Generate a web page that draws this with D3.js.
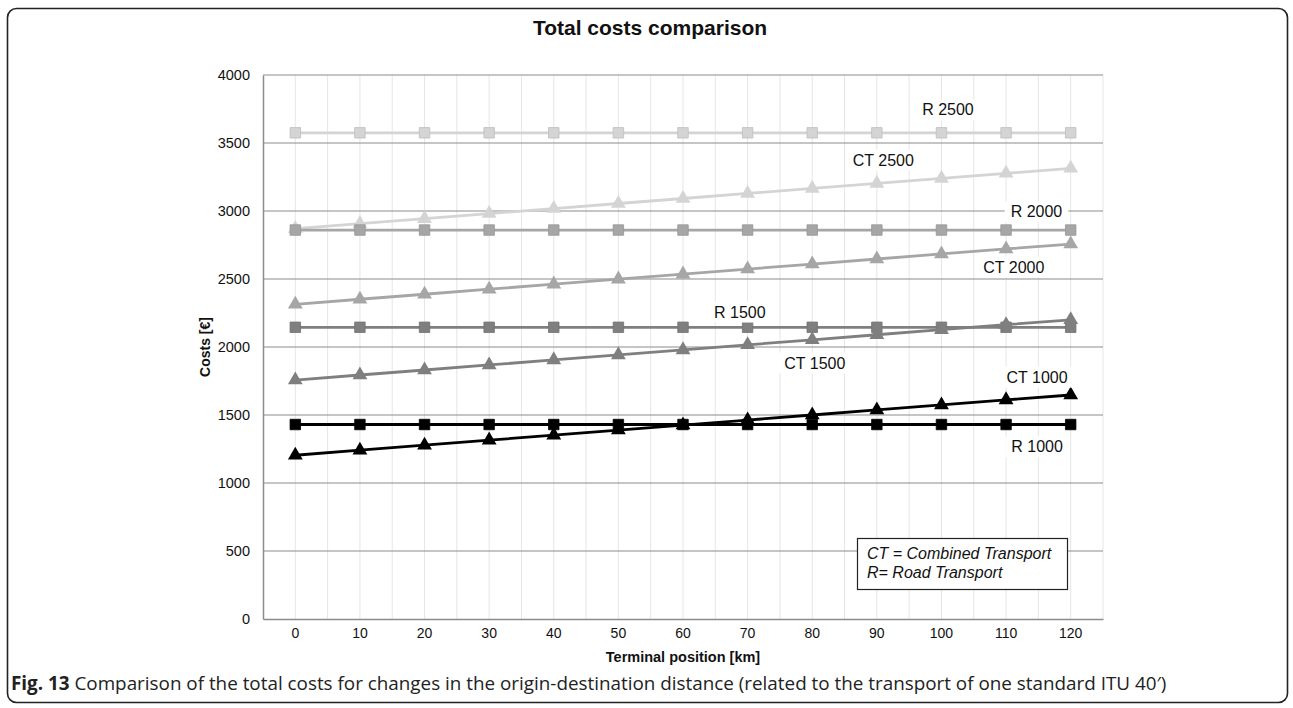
<!DOCTYPE html>
<html><head><meta charset="utf-8">
<script src="https://cdn.jsdelivr.net/npm/d3@7"></script>
<style>body{margin:0;background:#fff}svg{display:block}</style>
</head><body>
<svg id="c" width="1293" height="708"></svg>
<script>
const categories = [0,10,20,30,40,50,60,70,80,90,100,110,120];
const yTicks = [0,500,1000,1500,2000,2500,3000,3500,4000];
const seriesNames = ["R 2500","CT 2500","R 2000","CT 2000","R 1500","CT 1500","R 1000","CT 1000"];
const r2500 = [3575,3575,3575,3575,3575,3575,3575,3575,3575,3575,3575,3575,3575];
const ct2500 = [2870,2907,2944,2981,3018,3055,3092,3129,3166,3203,3240,3277,3314];
const r2000 = [2860,2860,2860,2860,2860,2860,2860,2860,2860,2860,2860,2860,2860];
const ct2000 = [2314,2351,2388,2425,2462,2499,2536,2573,2610,2647,2684,2721,2757];
const r1500 = [2145,2145,2145,2145,2145,2145,2145,2145,2145,2145,2145,2145,2145];
const ct1500 = [1757,1794,1831,1868,1905,1942,1979,2016,2053,2090,2127,2164,2200];
const r1000 = [1430,1430,1430,1430,1430,1430,1430,1430,1430,1430,1430,1430,1430];
const ct1000 = [1204,1241,1278,1315,1352,1389,1426,1463,1500,1537,1574,1611,1647];
const seriesValues = [r2500,ct2500,r2000,ct2000,r1500,ct1500,r1000,ct1000];
const seriesColors = ["#d4d4d4","#d4d4d4","#a6a6a6","#a6a6a6","#7f7f7f","#7f7f7f","#000000","#000000"];
const seriesMarker = ["square","triangle","square","triangle","square","triangle","square","triangle"];
// label anchor in data units: km position and cost value
const labelKm = [101,91,114.7,111.2,68.8,80.4,114.8,114.8];
const labelVal = [3743,3375,2993,2588,2257,1882,1265,1779];

const FONT = "Liberation Sans, Arial, sans-serif";
const svg = d3.select("#c");
svg.append("rect").attr("x",7.5).attr("y",8.5).attr("width",1280).attr("height",694)
  .attr("rx",9).attr("fill","none").attr("stroke","#222").attr("stroke-width",1.6);

const L=263, R=1103, T=75, B=619;
const x = d3.scaleBand().domain(categories).range([L,R]).paddingInner(0).paddingOuter(0);
const y = d3.scaleLinear().domain([0,4000]).range([B,T]);
const cx = d => x(d)+x.bandwidth()/2;
const xKm = d3.scaleLinear().domain([0,120]).range([cx(0),cx(120)]);

const g = svg.append("g");
const vlines = [];
categories.forEach(c=>{ vlines.push(x(c)); vlines.push(cx(c)); });
vlines.push(R);
g.selectAll("line.v").data(vlines.slice(1)).join("line")
  .attr("x1",d=>d).attr("x2",d=>d).attr("y1",T).attr("y2",B)
  .attr("stroke","#e6e6e6").attr("stroke-width",1);
g.selectAll("line.h").data(yTicks.filter(t=>t>0)).join("line")
  .attr("x1",L).attr("x2",R).attr("y1",d=>y(d)).attr("y2",d=>y(d))
  .attr("stroke","#8c8c8c").attr("stroke-width",1.2);

const yAxis = svg.append("g").attr("transform",`translate(${L},0)`)
  .call(d3.axisLeft(y).tickValues(yTicks).tickFormat(d3.format("d")).tickSize(0).tickPadding(13));
yAxis.select(".domain").attr("stroke","#8c8c8c").attr("stroke-width",1.5);
yAxis.selectAll("text").attr("font-family",FONT).attr("font-size",14.5).attr("fill","#111");
const xAxis = svg.append("g").attr("transform",`translate(0,${B})`)
  .call(d3.axisBottom(x).tickSize(0).tickPadding(9));
xAxis.select(".domain").attr("stroke","#8c8c8c").attr("stroke-width",1.5);
xAxis.selectAll("text").attr("font-family",FONT).attr("font-size",14).attr("fill","#111");

const line = d3.line().x((d,i)=>cx(categories[i])).y(d=>y(d));
const sq = d3.symbol().type(d3.symbolSquare).size(110);
const tri = d3.symbol().type(d3.symbolTriangle).size(95);
seriesValues.forEach((vals,si)=>{
  const gs = svg.append("g");
  gs.append("path").datum(vals).attr("d",line).attr("fill","none")
    .attr("stroke",seriesColors[si]).attr("stroke-width",2.8);
  gs.selectAll("path.m").data(vals).join("path")
    .attr("transform",(d,i)=>`translate(${cx(categories[i])},${y(d)})`)
    .attr("d", seriesMarker[si]==="square"? sq() : tri())
    .attr("fill",seriesColors[si])
    .attr("stroke", seriesMarker[si]==="square" ? d3.color(seriesColors[si]).darker(0.3) : "none")
    .attr("stroke-width",0.8);
});

seriesNames.forEach((name,si)=>{
  const lx = xKm(labelKm[si]);
  const ly = y(labelVal[si]);
  const gl = svg.append("g");
  const t = gl.append("text").attr("x",lx).attr("y",ly).attr("text-anchor","middle")
    .attr("dominant-baseline","central")
    .attr("font-family",FONT).attr("font-size",16).attr("fill","#111").text(name);
  const bb = t.node().getBBox();
  gl.insert("rect","text").attr("x",bb.x-6).attr("y",bb.y-2).attr("width",bb.width+12).attr("height",bb.height+4).attr("fill","#fff");
});

const lg = svg.append("g");
lg.append("rect").attr("x",857.5).attr("y",538.5).attr("width",210).attr("height",51)
  .attr("fill","#fff").attr("stroke","#222").attr("stroke-width",1.2);
lg.append("text").attr("x",867).attr("y",559).attr("font-family",FONT)
  .attr("font-style","italic").attr("font-size",16).attr("fill","#111").text("CT = Combined Transport");
lg.append("text").attr("x",867).attr("y",578).attr("font-family",FONT)
  .attr("font-style","italic").attr("font-size",16).attr("fill","#111").text("R= Road Transport");

svg.append("text").attr("x",650).attr("y",35).attr("text-anchor","middle")
  .attr("font-family",FONT).attr("font-weight","bold").attr("font-size",21)
  .attr("fill","#111").text("Total costs comparison");
svg.append("text").attr("transform","translate(210,347) rotate(-90)").attr("text-anchor","middle")
  .attr("font-family",FONT).attr("font-weight","bold").attr("font-size",14)
  .attr("fill","#111").text("Costs [€]");
svg.append("text").attr("x",683).attr("y",662).attr("text-anchor","middle")
  .attr("font-family",FONT).attr("font-weight","bold").attr("font-size",14.5)
  .attr("fill","#111").text("Terminal position [km]");

const capX0 = 11, capX1 = 1167;
let capSize = 14.5;
const cap = svg.append("text").attr("x",capX0).attr("y",690)
  .attr("font-family","Open Sans, Noto Sans, sans-serif").attr("font-size",capSize).attr("fill","#222");
cap.append("tspan").attr("font-weight","bold").text("Fig. 13");
cap.append("tspan").text(" Comparison of the total costs for changes in the origin-destination distance (related to the transport of one standard ITU 40′)");
const w = cap.node().getComputedTextLength();
cap.attr("font-size", capSize*(capX1-capX0)/w);
</script>
</body></html>
